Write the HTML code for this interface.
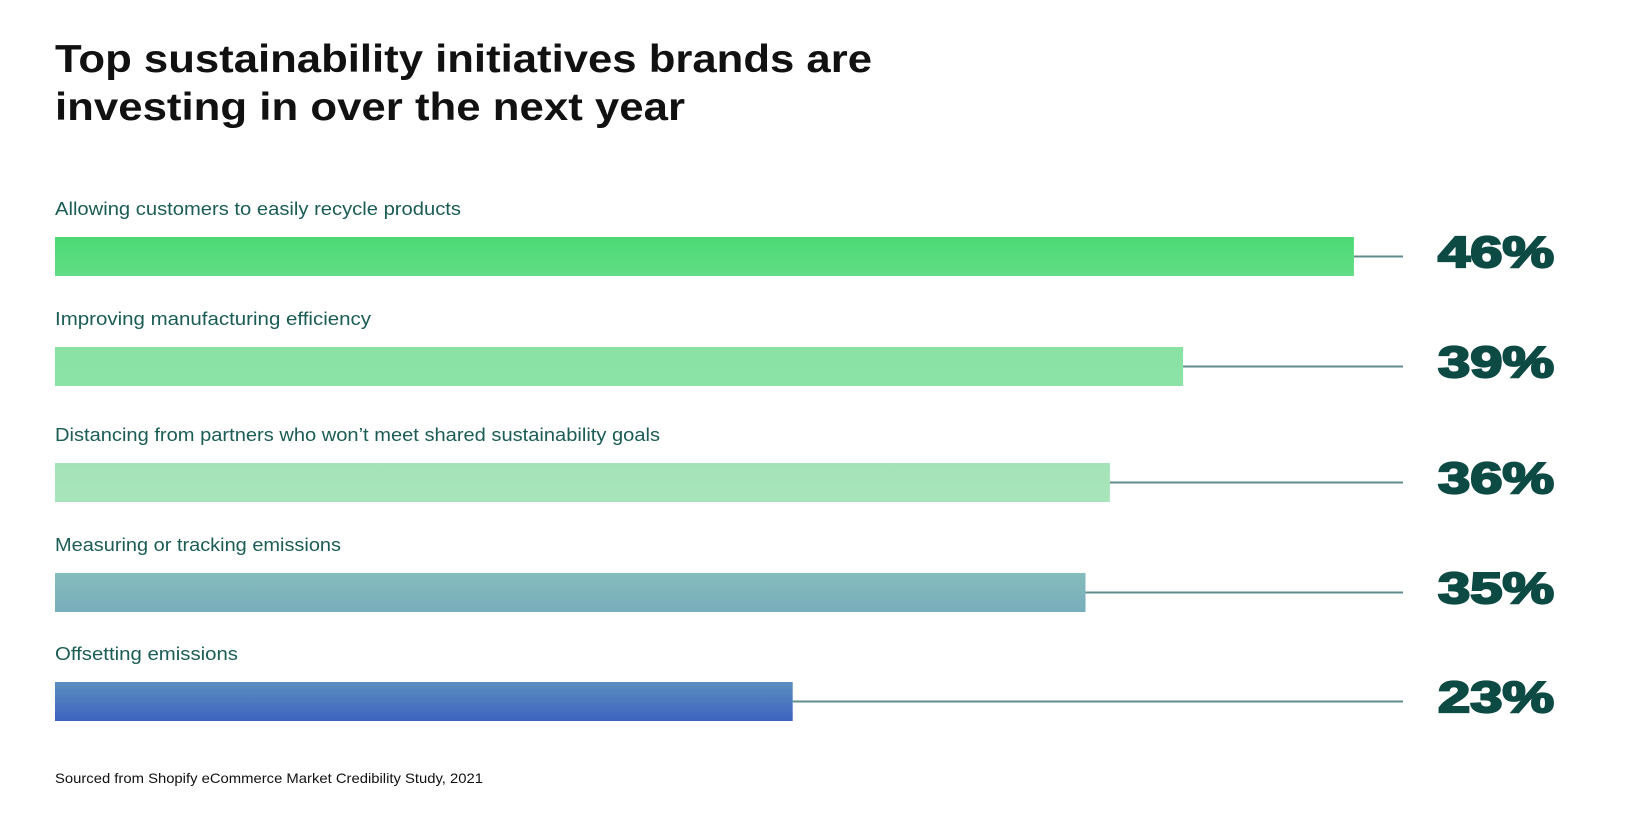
<!DOCTYPE html>
<html><head><meta charset="utf-8"><style>
html,body{margin:0;padding:0;background:#fff;}
svg{display:block;}
</style></head><body>
<svg id="chart" width="1646" height="838" viewBox="0 0 1646 838" xmlns="http://www.w3.org/2000/svg">
<defs>
<linearGradient id="g0" x1="0" y1="0" x2="0" y2="1"><stop offset="0" stop-color="#4cda74"/><stop offset="1" stop-color="#62dd86"/></linearGradient>
<linearGradient id="g1" x1="0" y1="0" x2="0" y2="1"><stop offset="0" stop-color="#89e2a3"/><stop offset="1" stop-color="#8de3a7"/></linearGradient>
<linearGradient id="g2" x1="0" y1="0" x2="0" y2="1"><stop offset="0" stop-color="#a4e3b7"/><stop offset="1" stop-color="#a8e4ba"/></linearGradient>
<linearGradient id="g3" x1="0" y1="0" x2="0" y2="1"><stop offset="0" stop-color="#85bcbc"/><stop offset="1" stop-color="#78adbb"/></linearGradient>
<linearGradient id="g4" x1="0" y1="0" x2="0" y2="1"><stop offset="0" stop-color="#5b8fc0"/><stop offset="1" stop-color="#3e63c0"/></linearGradient>
</defs>
<text x="55" y="72" font-family="Liberation Sans, sans-serif" font-weight="bold" font-size="39" fill="#111" textLength="817" lengthAdjust="spacingAndGlyphs">Top sustainability initiatives brands are</text>
<text x="55" y="120" font-family="Liberation Sans, sans-serif" font-weight="bold" font-size="39" fill="#111" textLength="630" lengthAdjust="spacingAndGlyphs">investing in over the next year</text>
<g id="bars"></g>
<text x="55" y="783" font-family="Liberation Sans, sans-serif" font-size="14" fill="#111" textLength="428" lengthAdjust="spacingAndGlyphs">Sourced from Shopify eCommerce Market Credibility Study, 2021</text>
</svg>
<script>
const categories = ["Allowing customers to easily recycle products","Improving manufacturing efficiency","Distancing from partners who won’t meet shared sustainability goals","Measuring or tracking emissions","Offsetting emissions"];
const values = [46, 39, 36, 35, 23];
const valueLabels = ["46%", "39%", "36%", "35%", "23%"];

const labelWidths = [406, 316, 605, 286, 183];
const rowTops = [237, 347, 463, 573, 682];
const NS = "http://www.w3.org/2000/svg";
const g = document.getElementById("bars");
const x0 = 55;
function xLen(v){ return 176.5 + 24.4 * v; }
const lineEnd = 1403;
categories.forEach((c, i) => {
  const top = rowTops[i];
  const t = document.createElementNS(NS, "text");
  
  
  t.setAttribute("x", x0); t.setAttribute("y", top - 22);
  t.setAttribute("font-family", "Liberation Sans, sans-serif");
  t.setAttribute("font-size", "18.5"); t.setAttribute("fill", "#1b5c55");
  t.setAttribute("textLength", labelWidths[i]); t.setAttribute("lengthAdjust", "spacingAndGlyphs");
  t.textContent = c; g.appendChild(t);
  const w = xLen(values[i]);
  const r = document.createElementNS(NS, "rect");
  
  
  r.setAttribute("x", x0); r.setAttribute("y", top);
  r.setAttribute("width", w); r.setAttribute("height", 39);
  r.setAttribute("fill", "url(#g" + i + ")"); g.appendChild(r);
  const l = document.createElementNS(NS, "line");
  
  
  l.setAttribute("x1", x0 + w); l.setAttribute("x2", lineEnd);
  l.setAttribute("y1", top + 19.5); l.setAttribute("y2", top + 19.5);
  l.setAttribute("stroke", "#5f8d8b"); l.setAttribute("stroke-width", "2");
  g.appendChild(l);
  const p = document.createElementNS(NS, "text");
  
  
  p.setAttribute("x", 1438); p.setAttribute("y", top + 30);
  p.setAttribute("font-family", "Liberation Sans, sans-serif");
  p.setAttribute("font-weight", "bold"); p.setAttribute("font-size", "44");
  p.setAttribute("fill", "#0d4a44");
  p.setAttribute("stroke", "#0d4a44"); p.setAttribute("stroke-width", "2.2");
  p.setAttribute("textLength", 116); p.setAttribute("lengthAdjust", "spacingAndGlyphs");
  p.textContent = valueLabels[i]; g.appendChild(p);
});
</script>
</body></html>
